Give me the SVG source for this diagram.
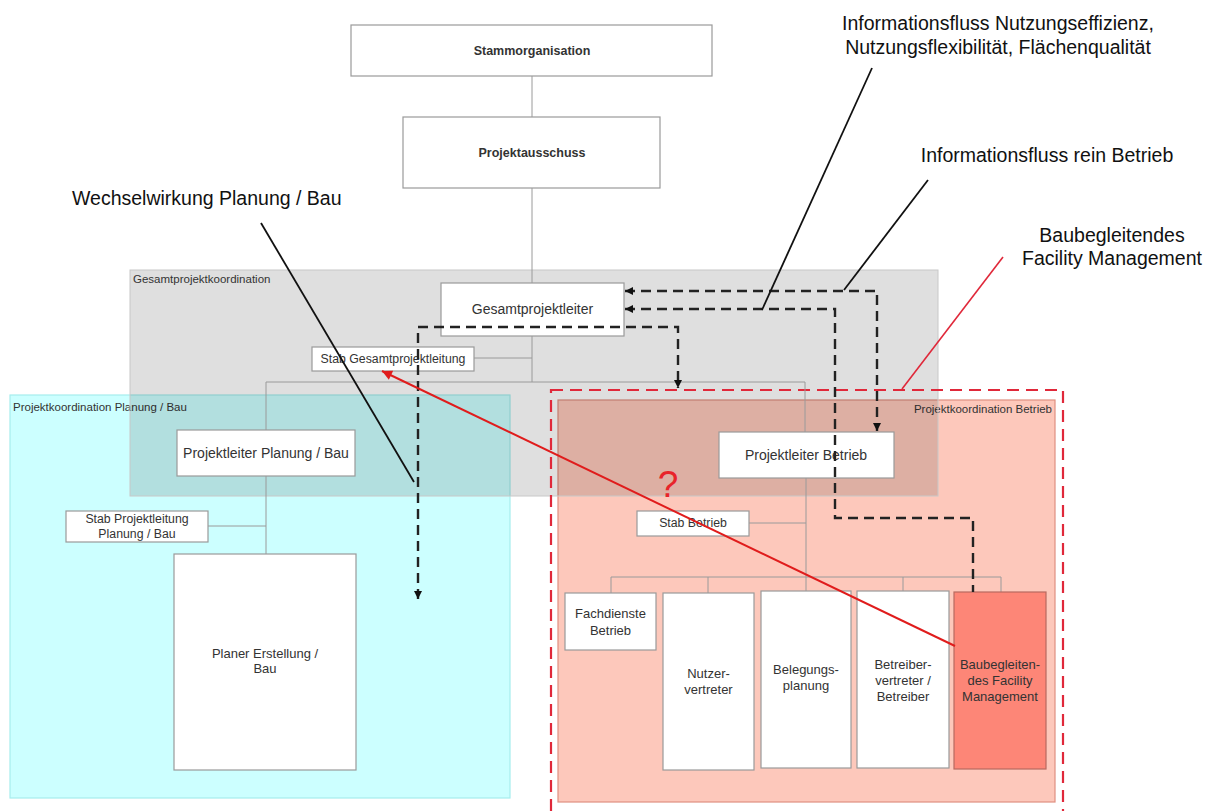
<svg xmlns="http://www.w3.org/2000/svg" width="1217" height="811" viewBox="0 0 1217 811">
  <defs>
    <style>
      text { font-family: "Liberation Sans", Arial, sans-serif; fill: #333; }
      .box { fill: #fff; stroke: #9a9a9a; stroke-width: 1.2; }
      .tree { fill: none; stroke: #9a9a9a; stroke-width: 1; }
      .bold { font-weight: bold; font-size: 12.5px; }
      .lbl14 { font-size: 14px; text-anchor: middle; }
      .lbl13 { font-size: 13px; text-anchor: middle; }
      .lbl12 { font-size: 12.3px; text-anchor: middle; }
      .region { font-size: 11.5px; }
      .note { font-size: 19.5px; fill: #111; }
      .flow { fill: none; stroke: #222; stroke-width: 2.4; stroke-dasharray: 10 6; }
      .pointer { fill: none; stroke: #111; stroke-width: 1.8; }
    </style>
    <marker id="ah" viewBox="0 0 10 10" refX="10" refY="5" markerUnits="userSpaceOnUse" markerWidth="9" markerHeight="8" orient="auto-start-reverse">
      <path d="M0,0 L10,5 L0,10 z" fill="#111"/>
    </marker>
    <marker id="ahRed" viewBox="0 0 10 10" refX="10" refY="5" markerUnits="userSpaceOnUse" markerWidth="12" markerHeight="10" orient="auto">
      <path d="M0,0 L10,5 L0,10 z" fill="#e01c1c"/>
    </marker>
  </defs>

  <rect width="1217" height="811" fill="#fff"/>

  <!-- coordination areas -->
  <g id="area-planung">
    <rect x="10" y="395" width="500" height="403" fill="#ccffff" stroke="#a6eded" stroke-width="1.2"/>
    <text class="region" x="13" y="411">Projektkoordination Planung / Bau</text>
  </g>
  <g id="area-betrieb">
    <rect x="558" y="400" width="497" height="402" fill="#fdc8bb" stroke="#e08f80" stroke-width="1.2"/>
    <text class="region" x="1052" y="413" text-anchor="end">Projektkoordination Betrieb</text>
  </g>
  <g id="area-gesamt">
    <rect x="130" y="270" width="808" height="226" fill="#000" fill-opacity="0.125" stroke="#c8c8c8" stroke-width="1"/>
    <text class="region" x="133" y="283">Gesamtprojektkoordination</text>
  </g>
  <g id="frame-fm">
    <rect x="551" y="390" width="512" height="430" fill="none" stroke="#e0283a" stroke-width="2.2" stroke-dasharray="12 7"/>
  </g>

  <!-- hierarchy lines -->
  <g id="tree">
    <path class="tree" d="M532,76 V117 M532,188 V283 M532,336 V382 M474,358 H532 M266,382 H805 M266,382 V430 M805,382 V432"/>
    <path class="tree" d="M266,476 V554 M208,526 H266"/>
    <path class="tree" d="M806,478 V591 M749,523 H806 M611,577 H1001 M611,577 V593 M708,577 V593 M903,577 V591 M1001,577 V592"/>
  </g>

  <!-- nodes -->
  <g id="stammorganisation">
    <rect class="box" x="351" y="25" width="361" height="51"/>
    <text class="bold" x="532" y="55" text-anchor="middle">Stammorganisation</text>
  </g>
  <g id="projektausschuss">
    <rect class="box" x="403" y="117" width="257" height="71"/>
    <text class="bold" x="532" y="157" text-anchor="middle">Projektausschuss</text>
  </g>
  <g id="gesamtprojektleiter">
    <rect class="box" x="441" y="283" width="183" height="53"/>
    <text class="lbl14" x="532.5" y="314">Gesamtprojektleiter</text>
  </g>
  <g id="stab-gesamt">
    <rect class="box" x="312" y="347" width="162" height="24"/>
    <text class="lbl12" x="393" y="363">Stab Gesamtprojektleitung</text>
  </g>
  <g id="pl-planung">
    <rect class="box" x="177" y="430" width="178" height="46"/>
    <text class="lbl14" x="266" y="458">Projektleiter Planung / Bau</text>
  </g>
  <g id="stab-planung">
    <rect class="box" x="66" y="511" width="142" height="31"/>
    <text class="lbl12" x="137" y="523">Stab Projektleitung</text>
    <text class="lbl12" x="137" y="538">Planung / Bau</text>
  </g>
  <g id="planer">
    <rect class="box" x="174" y="554" width="182" height="216"/>
    <text class="lbl13" x="265" y="658">Planer Erstellung /</text>
    <text class="lbl13" x="265" y="673">Bau</text>
  </g>
  <g id="pl-betrieb">
    <rect class="box" x="719" y="432" width="175" height="46"/>
    <text class="lbl14" x="806" y="460">Projektleiter Betrieb</text>
  </g>
  <g id="stab-betrieb">
    <rect class="box" x="637" y="511" width="112" height="25"/>
    <text class="lbl12" x="693" y="527">Stab Betrieb</text>
  </g>
  <g id="fachdienste">
    <rect class="box" x="565" y="593" width="91" height="57"/>
    <text class="lbl13" x="610.5" y="618">Fachdienste</text>
    <text class="lbl13" x="610.5" y="635">Betrieb</text>
  </g>
  <g id="nutzervertreter">
    <rect class="box" x="663" y="593" width="91" height="177"/>
    <text class="lbl13" x="708.5" y="678">Nutzer-</text>
    <text class="lbl13" x="708.5" y="694">vertreter</text>
  </g>
  <g id="belegungsplanung">
    <rect class="box" x="761" y="591" width="90" height="177"/>
    <text class="lbl13" x="806" y="674">Belegungs-</text>
    <text class="lbl13" x="806" y="690">planung</text>
  </g>
  <g id="betreiber">
    <rect class="box" x="857" y="591" width="92" height="177"/>
    <text class="lbl13" x="903" y="669">Betreiber-</text>
    <text class="lbl13" x="903" y="685">vertreter /</text>
    <text class="lbl13" x="903" y="701">Betreiber</text>
  </g>
  <g id="baubegleitendes-fm">
    <rect x="954" y="592" width="92" height="177" fill="#fd8677" stroke="#b86a60" stroke-width="1.2"/>
    <text class="lbl13" x="1000" y="669">Baubegleiten-</text>
    <text class="lbl13" x="1000" y="685">des Facility</text>
    <text class="lbl13" x="1000" y="701">Management</text>
  </g>

  <!-- information flows and annotations -->
  <g id="connectors">
    <path class="flow" d="M625,291 H877 V431" marker-start="url(#ah)" marker-end="url(#ah)"/>
    <path class="flow" d="M625,309 H835 V518 H973 V592" marker-start="url(#ah)"/>
    <path class="flow" d="M418,599 V327 H678 V388" marker-start="url(#ah)" marker-end="url(#ah)"/>
    <line x1="955" y1="646" x2="382" y2="371" stroke="#e01c1c" stroke-width="2" marker-end="url(#ahRed)"/>
    <line class="pointer" x1="261" y1="223" x2="414" y2="482"/>
    <line class="pointer" x1="872" y1="68" x2="762" y2="310"/>
    <line class="pointer" x1="928" y1="180" x2="844" y2="290"/>
    <line x1="1003" y1="257" x2="902" y2="389" stroke="#e0283a" stroke-width="1.6"/>
  </g>

  <g id="notes">
    <text class="note" x="72" y="205">Wechselwirkung Planung / Bau</text>
    <text class="note" x="998" y="30" text-anchor="middle">Informationsfluss Nutzungseffizienz,</text>
    <text class="note" x="998" y="54" text-anchor="middle">Nutzungsflexibilität, Flächenqualität</text>
    <text class="note" x="1047" y="162" text-anchor="middle">Informationsfluss rein Betrieb</text>
    <text class="note" x="1112" y="242" text-anchor="middle">Baubegleitendes</text>
    <text class="note" x="1112" y="265" text-anchor="middle">Facility Management</text>
    <text x="668" y="497" font-size="37px" text-anchor="middle" style="fill:#e8242a">?</text>
  </g>
</svg>
